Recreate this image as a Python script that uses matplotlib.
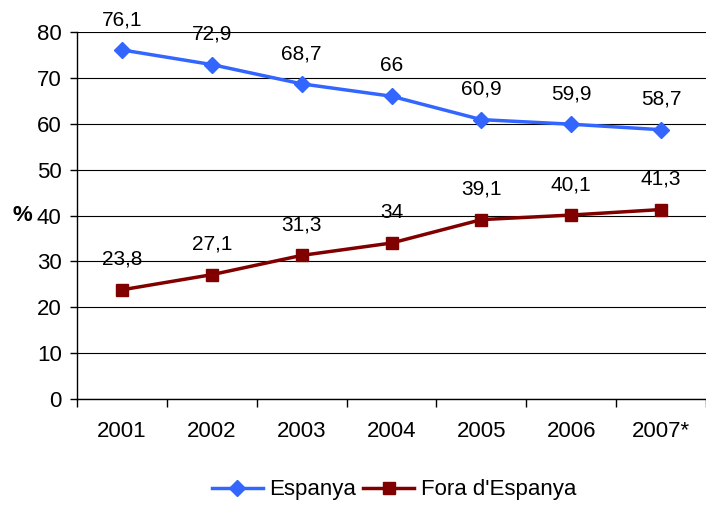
import matplotlib
matplotlib.use("Agg")
import matplotlib.pyplot as plt
import numpy as np

plt.rcParams['font.family'] = ['Liberation Sans', 'DejaVu Sans']

years = ["2001", "2002", "2003", "2004", "2005", "2006", "2007*"]
espanya = [76.1, 72.9, 68.7, 66.0, 60.9, 59.9, 58.7]
fora = [23.8, 27.1, 31.3, 34.0, 39.1, 40.1, 41.3]
espanya_labels = ["76,1", "72,9", "68,7", "66", "60,9", "59,9", "58,7"]
fora_labels = ["23,8", "27,1", "31,3", "34", "39,1", "40,1", "41,3"]

FS = 15
TS = 16

fig = plt.figure(figsize=(7.06, 5.05), dpi=100)
ax = fig.add_axes([77/706, 1-399/505, 629/706, 367/505])

x = np.arange(len(years))
ax.plot(x, espanya, color='#3366FF', lw=2.5, marker='D', ms=8, label='Espanya')
ax.plot(x, fora, color='#800000', lw=2.5, marker='s', ms=8, label="Fora d'Espanya")

for xi, v, t in zip(x, espanya, espanya_labels):
    ax.annotate(t, (xi, v), xytext=(0, 15), textcoords='offset points',
                ha='center', va='bottom', fontsize=FS)
for xi, v, t in zip(x, fora, fora_labels):
    ax.annotate(t, (xi, v), xytext=(0, 15), textcoords='offset points',
                ha='center', va='bottom', fontsize=FS)

ax.set_xlim(-0.5, len(years) - 0.5)
ax.set_ylim(0, 80)
ax.set_yticks(range(0, 81, 10))
ax.set_xticks(x)
ax.set_xticklabels(years)
ax.set_xticks(np.arange(-0.5, len(years), 1), minor=True)
ax.tick_params(axis='x', which='major', length=0, pad=16, labelsize=TS)
ax.tick_params(axis='x', which='minor', length=6, width=1)
ax.tick_params(axis='y', length=5, width=1, labelsize=TS, pad=6)
ax.yaxis.grid(True, color='black', lw=0.8)
ax.set_axisbelow(True)
for s in ['top', 'right']:
    ax.spines[s].set_visible(False)
ax.spines['left'].set_linewidth(1)
ax.spines['bottom'].set_linewidth(1)

fig.text(12/706, 1-216/505, '%', fontsize=16, fontweight='bold', ha='left', va='center')

ax.legend(loc='center', bbox_to_anchor=(394/706, 1-490/505), bbox_transform=fig.transFigure,
          ncol=2, frameon=False, fontsize=TS, handlelength=2.3, columnspacing=0.3, handletextpad=0.3)

fig.savefig('out.png', dpi=100)
